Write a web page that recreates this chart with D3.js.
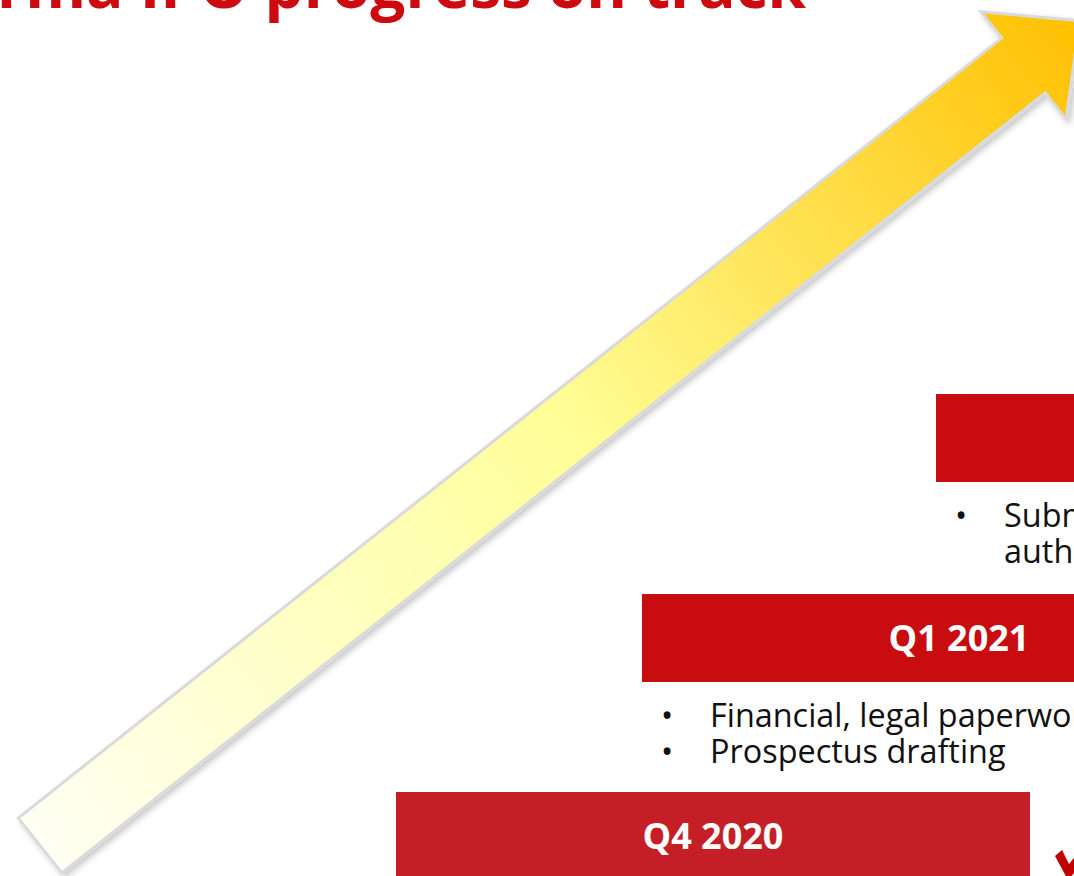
<!DOCTYPE html>
<html>
<head>
<meta charset="utf-8">
<script src="https://cdn.jsdelivr.net/npm/d3@7"></script>
<style>
  html, body { margin: 0; padding: 0; background: #fff; overflow: hidden; }
  svg { display: block; font-family: "Open Sans", "Noto Sans", sans-serif; }
</style>
</head>
<body>
<svg id="chart"></svg>
<script>
// milestones along the arrow
var milestones = ["Q4 2020", "Q1 2021", "Q2 2021"];
var boxColors = ["#c41f27", "#c80c10", "#c80c10"];
// each bullet item is a list of wrapped lines
var bullets = [
    [],
    [["Financial, legal paperwork"], ["Prospectus drafting"]],
    [["Submission of documents to the", "authorities"]]
];
var done = [true, false, false];
var title = "Pharma IPO progress on track";

var width = 1074, height = 876;
var boxW = 634, boxH = 88;

var svg = d3.select("#chart")
    .attr("width", width)
    .attr("height", height);

var x = d3.scaleLinear().domain([0, 1, 2]).range([396, 642, 936]);
var y = d3.scaleLinear().domain([0, 1, 2]).range([792, 594, 394]);

var defs = svg.append("defs");

var grad = defs.append("linearGradient")
    .attr("id", "arrowGrad")
    .attr("gradientUnits", "userSpaceOnUse")
    .attr("x1", 40).attr("y1", 845)
    .attr("x2", 1080).attr("y2", 21);
grad.append("stop").attr("offset", "0%").attr("stop-color", "#fffff3");
grad.append("stop").attr("offset", "50%").attr("stop-color", "#ffff99");
grad.append("stop").attr("offset", "100%").attr("stop-color", "#ffc000");

var shadow = defs.append("filter")
    .attr("id", "shadow")
    .attr("x", "-10%").attr("y", "-10%")
    .attr("width", "120%").attr("height", "120%");
shadow.append("feDropShadow")
    .attr("dx", 3).attr("dy", 3)
    .attr("stdDeviation", 3)
    .attr("flood-color", "#000")
    .attr("flood-opacity", 0.22);

// arrow geometry along its axis
var tail = [40, 845.5], base = [1023.5, 65.5];
var len = Math.hypot(base[0] - tail[0], base[1] - tail[1]);
var u = [(base[0] - tail[0]) / len, (base[1] - tail[1]) / len];
var n = [-u[1], u[0]];
var shaftHalf = 35, headHalf = 68.5, headLen = 72;
function pt(p, a, b) { return [p[0] + a * u[0] + b * n[0], p[1] + a * u[1] + b * n[1]]; }
var arrowPts = [
    pt(tail, 0, -shaftHalf),
    pt(base, 0, -shaftHalf),
    pt(base, 0, -headHalf),
    pt(base, headLen, 0),
    pt(base, 0, headHalf),
    pt(base, 0, shaftHalf),
    pt(tail, 0, shaftHalf)
];

svg.append("path")
    .attr("d", d3.line()(arrowPts) + "Z")
    .attr("fill", "url(#arrowGrad)")
    .attr("stroke", "#dadada")
    .attr("stroke-width", 3)
    .attr("stroke-linejoin", "miter")
    .attr("filter", "url(#shadow)");

// title (cut off at the top of the frame)
svg.append("text")
    .attr("x", 806)
    .attr("y", 8)
    .attr("text-anchor", "end")
    .attr("font-size", 62)
    .attr("font-weight", 700)
    .attr("fill", "#cc0a10")
    .text(title);

var steps = svg.selectAll("g.step")
    .data(milestones)
    .enter()
    .append("g")
    .attr("class", "step")
    .attr("transform", function(d, i) {
        return "translate(" + x(i) + "," + y(i) + ")";
    });

steps.append("rect")
    .attr("width", boxW)
    .attr("height", boxH)
    .attr("fill", function(d, i) { return boxColors[i]; });

steps.append("text")
    .attr("x", boxW / 2)
    .attr("y", boxH / 2 + 13)
    .attr("text-anchor", "middle")
    .attr("font-size", 36)
    .attr("font-weight", 700)
    .attr("fill", "#fff")
    .text(function(d) { return d; });

steps.each(function(d, i) {
    var g = d3.select(this);
    var row = 0;
    bullets[i].forEach(function(item) {
        item.forEach(function(line, k) {
            var t = g.append("text")
                .attr("y", boxH + 45 + row * 36)
                .attr("font-size", 32.4)
                .attr("fill", "#111");
            if (k === 0) {
                t.append("tspan").attr("x", 19).text("\u2022");
            }
            t.append("tspan").attr("x", 68).text(line);
            row++;
        });
    });
    if (done[i]) {
        g.append("path")
            .attr("d", "M659,64 L666,58 L673,72 L700,38 L708,46 L672,88 Z")
            .attr("fill", "#c00000");
    }
});
</script>
</body>
</html>
